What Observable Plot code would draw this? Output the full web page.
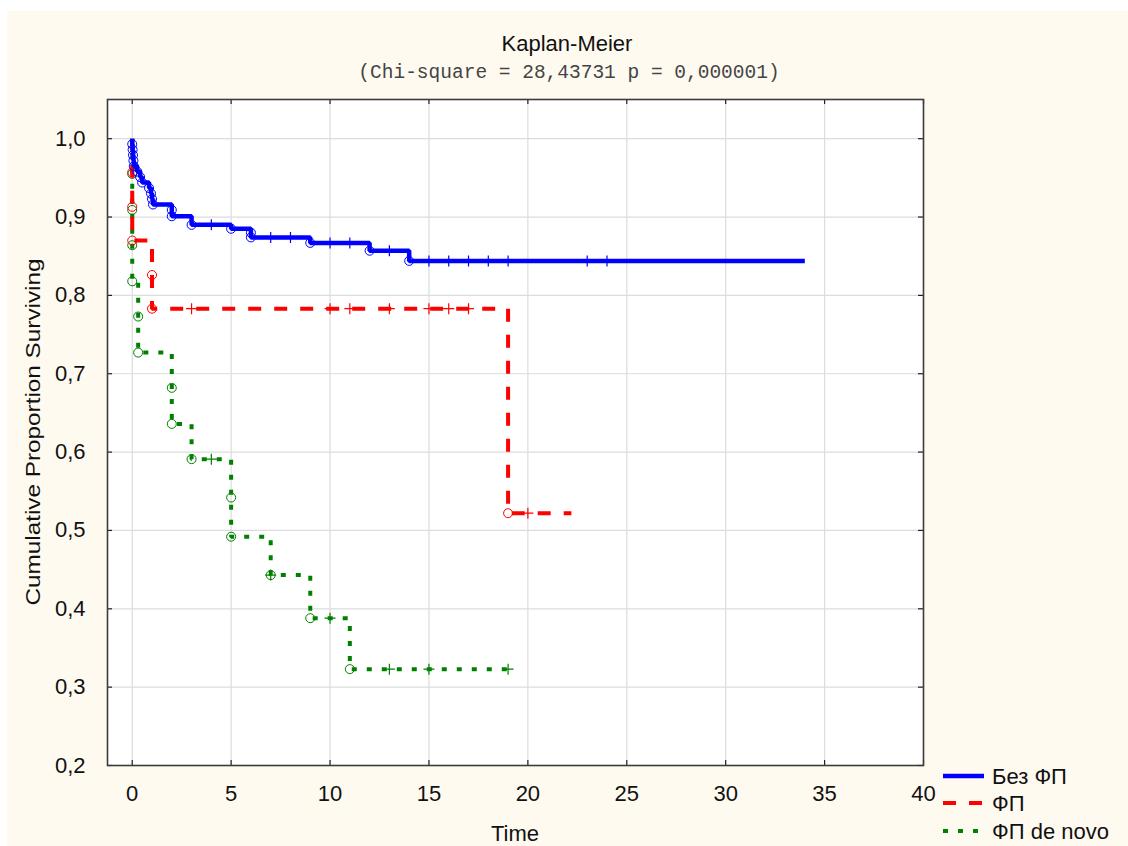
<!DOCTYPE html>
<html>
<head>
<meta charset="utf-8">
<script src="https://cdn.jsdelivr.net/npm/d3@7"></script>
<script src="https://cdn.jsdelivr.net/npm/@observablehq/plot@0.6"></script>
<style>
  body { margin: 0; background: #ffffff; }
  #page { position: relative; width: 1128px; height: 846px; overflow: hidden; background: #ffffff; }
  #panel { position: absolute; left: 7px; top: 11px; right: 0; bottom: 0; background: #fffaf0; }
  #page svg { position: absolute; left: 0; top: 0; }
</style>
</head>
<body>
<div id="page"><div id="panel"></div></div>
<script>
// Kaplan–Meier estimates for three patient groups.
// For each group: event times with the survival proportion just after each event,
// censoring times (drawn as "+"), and the last follow-up time.

// Без ФП
const bezEventTime = [0, 0.02, 0.04, 0.06, 0.08, 0.25, 0.4, 0.5, 0.85, 0.95, 1.0, 1.05, 2, 2, 3, 5, 6, 6, 9, 12, 14];
const bezEventSurv = [0.993, 0.986, 0.979, 0.972, 0.965, 0.958, 0.951, 0.944, 0.937, 0.930, 0.923, 0.916, 0.909, 0.901, 0.890, 0.885, 0.880, 0.874, 0.867, 0.857, 0.844];
const bezCensorTime = [4, 7, 8, 10, 11, 13, 15, 16, 17, 18, 19, 23, 24];
const bezEnd = 34;

// ФП
const fpEventTime = [0, 0, 0, 1, 1, 19];
const fpEventSurv = [0.957, 0.913, 0.870, 0.826, 0.783, 0.522];
const fpCensorTime = [3, 10, 11, 13, 15, 16, 17, 20];
const fpEnd = 22.2;

// ФП de novo
const dnEventTime = [0, 0, 0, 0, 0.3, 0.3, 2, 2, 3, 5, 5, 7, 9, 11];
const dnEventSurv = [0.955, 0.909, 0.864, 0.818, 0.773, 0.727, 0.682, 0.636, 0.591, 0.542, 0.492, 0.443, 0.388, 0.323];
const dnCensorTime = [4, 7, 10, 13, 15, 19];
const dnEnd = 19;

const groupNames = ["Без ФП", "ФП", "ФП de novo"];
const groupColors = ["#0000ff", "#ff0000", "#008000"];

const xTicks = [0, 5, 10, 15, 20, 25, 30, 35, 40];
const yTicks = [0.2, 0.3, 0.4, 0.5, 0.6, 0.7, 0.8, 0.9, 1.0];

const titleText = "Kaplan-Meier";
const subtitleText = "(Chi-square = 28,43731 p = 0,000001)";
const xLabel = "Time";
const yLabel = "Cumulative Proportion Surviving";

// ---- build step curves ----
function buildGroup(times, surv, censor, end) {
  const steps = [{t: 0, s: 1}];
  times.forEach((t, i) => steps.push({t, s: surv[i]}));
  steps.push({t: end, s: surv[surv.length - 1]});
  const events = times.map((t, i) => ({t, s: surv[i]}));
  const survAt = (t) => {
    let s = 1;
    times.forEach((et, i) => { if (et <= t) s = surv[i]; });
    return s;
  };
  const censored = censor.map(t => ({t, s: survAt(t)}));
  return {steps, events, censored};
}

const groups = [
  buildGroup(bezEventTime, bezEventSurv, bezCensorTime, bezEnd),
  buildGroup(fpEventTime, fpEventSurv, fpCensorTime, fpEnd),
  buildGroup(dnEventTime, dnEventSurv, dnCensorTime, dnEnd)
];

const lineStyles = [
  {strokeWidth: 4.5, strokeDasharray: null},
  {strokeWidth: 4, strokeDasharray: "13,13"},
  {strokeWidth: 4, strokeDasharray: "5,10"}
];

// "+" marker drawn as two strokes
const plusSymbol = {
  draw(context, size) {
    const r = Math.sqrt(size / Math.PI);
    context.moveTo(-r, 0); context.lineTo(r, 0);
    context.moveTo(0, -r); context.lineTo(0, r);
  }
};

const W = 1128, H = 846;
const mL = 107, mT = 99, mR = 205, mB = 81;
const frameW = W - mL - mR, frameH = H - mT - mB;
const tickLen = 5;

function seriesMarks(i) {
  const g = groups[i];
  const c = groupColors[i];
  return [
    Plot.line(g.steps, {x: "t", y: "s", curve: "step-after", stroke: c,
      strokeWidth: lineStyles[i].strokeWidth, strokeDasharray: lineStyles[i].strokeDasharray,
      strokeLinejoin: "miter", strokeLinecap: "butt"}),
    Plot.dot(g.events, {x: "t", y: "s", r: 4.5, symbol: "circle", stroke: c, fill: "none", strokeWidth: 1}),
    Plot.dot(g.censored, {x: "t", y: "s", r: 5.5, symbol: plusSymbol, stroke: c, fill: "none", strokeWidth: 1.2})
  ];
}

const chart = Plot.plot({
  width: W,
  height: H,
  marginLeft: mL, marginTop: mT, marginRight: mR, marginBottom: mB,
  x: {domain: [-1.25, 40]},
  y: {domain: [0.2, 1.05]},
  style: {background: "transparent", fontFamily: "'Liberation Sans', Arial, sans-serif", fontSize: "22px", color: "#111", overflow: "visible"},
  marks: [
    Plot.frame({fill: "#ffffff", stroke: null}),
    Plot.gridX(xTicks, {stroke: "#dcdcdc", strokeOpacity: 1, strokeWidth: 1.2}),
    Plot.gridY(yTicks, {stroke: "#dcdcdc", strokeOpacity: 1, strokeWidth: 1.2}),
    ...seriesMarks(2),
    ...seriesMarks(1),
    ...seriesMarks(0),
    // inward tick marks on all four sides
    Plot.ruleX(xTicks, {stroke: "#222", strokeWidth: 1.2, insetTop: frameH - tickLen}),
    Plot.ruleX(xTicks, {stroke: "#222", strokeWidth: 1.2, insetBottom: frameH - tickLen}),
    Plot.ruleY(yTicks, {stroke: "#222", strokeWidth: 1.2, insetRight: frameW - tickLen}),
    Plot.ruleY(yTicks, {stroke: "#222", strokeWidth: 1.2, insetLeft: frameW - tickLen}),
    Plot.frame({stroke: "#3c3c3c", strokeWidth: 1.6}),
    Plot.axisX(xTicks, {tickSize: 0, tickPadding: 20, tickFormat: d => String(d), label: null, fontSize: 22}),
    Plot.axisY(yTicks, {tickSize: 0, tickPadding: 22, tickFormat: d => d.toFixed(1).replace(".", ","), label: null, fontSize: 22})
  ]
});

const page = document.getElementById("page");
page.appendChild(chart);

// titles, axis labels and legend
const over = d3.create("svg").attr("width", W).attr("height", H)
  .style("font-family", "'Liberation Sans', Arial, sans-serif").style("pointer-events", "none");

over.append("text").attr("x", 567).attr("y", 51).attr("text-anchor", "middle")
  .attr("font-size", 22).attr("fill", "#111").text(titleText);
over.append("text").attr("x", 569).attr("y", 78).attr("text-anchor", "middle")
  .attr("font-family", "'Liberation Mono', 'Courier New', monospace")
  .attr("font-size", 19.5).attr("fill", "#444").text(subtitleText);
over.append("text").attr("x", 515).attr("y", 841).attr("text-anchor", "middle")
  .attr("font-size", 22).attr("fill", "#111").text(xLabel);
over.append("text").attr("transform", "translate(40,432) rotate(-90)").attr("text-anchor", "middle")
  .attr("font-size", 20).attr("fill", "#111")
  .attr("textLength", 347).attr("lengthAdjust", "spacingAndGlyphs").text(yLabel);

const legendY = [776, 803, 831];
groupNames.forEach((name, i) => {
  over.append("line").attr("x1", 943).attr("x2", 984).attr("y1", legendY[i]).attr("y2", legendY[i])
    .attr("stroke", groupColors[i]).attr("stroke-width", lineStyles[i].strokeWidth)
    .attr("stroke-dasharray", i === 0 ? null : (i === 1 ? "13,13" : "5,10"));
  over.append("text").attr("x", 992).attr("y", legendY[i] + 8).attr("font-size", 22)
    .attr("fill", "#111").text(name);
});

page.appendChild(over.node());
</script>
</body>
</html>
